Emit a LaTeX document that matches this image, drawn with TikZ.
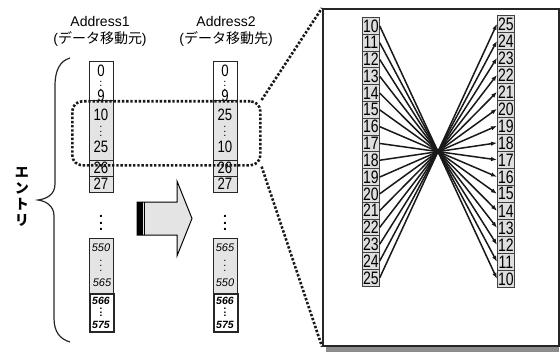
\documentclass[tikz,border=0pt]{standalone}
\usepackage{graphicx}
\usepackage{fontspec}
\setmainfont{Liberation Sans}
\newfontfamily\cjk{Noto Sans CJK JP}
\usetikzlibrary{arrows.meta}
\definecolor{cellgray}{HTML}{E4E4E4}
\definecolor{pgray}{HTML}{DEDEDE}
\definecolor{shadowgray}{HTML}{8C8C8C}
\newcommand\cnd[1]{\scalebox{0.8}[1]{#1}}
\newcommand\pcnd[1]{\scalebox{0.78}[1]{#1}}
\newcommand\vd[1]{\vbox{\baselineskip#1\lineskiplimit0pt\hbox{.}\hbox{.}\hbox{.}}}
\begin{document}
\begin{tikzpicture}[x=1pt,y=-1pt,
  box/.style={draw=black!85,line width=0.8pt,inner sep=0pt,minimum width=24pt,anchor=north west},
  gbox/.style={box,fill=cellgray},
  wbox/.style={box,fill=white},
  num/.style={inner sep=0pt,font=\fontsize{16.5}{16.5}\selectfont},
  snum/.style={inner sep=0pt,font=\fontsize{11}{11}\selectfont\itshape},
  bnum/.style={inner sep=0pt,font=\fontsize{10.5}{10.5}\selectfont\itshape\bfseries},
  dots/.style={inner sep=0pt,font=\fontsize{11}{11}\selectfont},
  lbl/.style={inner sep=0pt,font=\fontsize{14}{16}\selectfont},
  pcell/.style={draw=black!75,fill=pgray,line width=0.7pt,inner sep=0pt,minimum width=17pt,minimum height=17pt,anchor=north west,font=\fontsize{18}{17}\selectfont},
  conn/.style={line width=1.5pt,black!90,-{Latex[length=6pt,width=4.5pt]}},
  dotline/.style={line width=2.6pt,dash pattern=on 2.4pt off 1.8pt,black!90}
]
\useasboundingbox (0,0) rectangle (560,353);

% headers
\node[lbl] (h1) at (100,21) {Address1};
\node[lbl] (h1b) at (100,38.5) {({\cjk データ移動元})};
\node[lbl] (h2) at (226,21) {Address2};
\node[lbl] (h2b) at (226,38.5) {({\cjk データ移動先})};

% brace
\draw[line width=1.2pt,black!85] (70,58) .. controls (60,61) and (55,70) .. (55,86) -- (55,184)
  .. controls (55,195) and (46,199) .. (38,200) .. controls (46,201) and (54,206) .. (54,216)
  -- (54,318) .. controls (54,332) and (60,339) .. (70,342);
\node[inner sep=0pt,align=center,font=\cjk\bfseries\fontsize{14}{16}\selectfont] (entry) at (22,197) {エ\\ン\\ト\\リ};

% column 1
\node[wbox,minimum height=39pt] (a1) at (89,61) {};
\node[gbox,minimum height=60pt] (b1) at (89,100) {};
\node[gbox,minimum height=16pt] (c1) at (89,160) {};
\node[gbox,minimum height=16pt] (d1) at (89,176) {};
\node[gbox,minimum height=55pt] (e1) at (89,238) {};
\node[wbox,minimum height=38pt,line width=1.5pt] (f1) at (89,293) {};
\node[num] (a1t) at (101,71) {\cnd{0}};
\node[dots] (a1d) at (101,86) {\vd{4pt}};
\node[num] (a1u) at (101,95.5) {\cnd{9}};
\node[num] (b1t) at (101,115) {\cnd{10}};
\node[dots] (b1d) at (101,131.5) {\vd{4.5pt}};
\node[num] (b1u) at (101,147) {\cnd{25}};
\node[num] (c1t) at (101,168) {\cnd{26}};
\node[num] (d1t) at (101,184) {\cnd{27}};
\node[dots,font=\fontsize{14}{14}\selectfont\bfseries] (m1d) at (101,223) {\vd{6.5pt}};
\node[snum] (e1t) at (101,248) {550};
\node[dots] (e1d) at (101,265.5) {\vd{5pt}};
\node[snum] (e1u) at (102,283) {565};
\node[bnum] (f1t) at (101,300.5) {566};
\node[dots,font=\fontsize{10}{10}\selectfont\bfseries] (f1d) at (101,312.5) {\vd{3.6pt}};
\node[bnum] (f1u) at (101,324.5) {575};

% column 2
\node[wbox,minimum height=39pt] (a2) at (213,61) {};
\node[gbox,minimum height=60pt] (b2) at (213,100) {};
\node[gbox,minimum height=16pt] (c2) at (213,160) {};
\node[gbox,minimum height=16pt] (d2) at (213,176) {};
\node[gbox,minimum height=55pt] (e2) at (213,238) {};
\node[wbox,minimum height=38pt,line width=1.5pt] (f2) at (213,293) {};
\node[num] (a2t) at (225,71) {\cnd{0}};
\node[dots] (a2d) at (225,86) {\vd{4pt}};
\node[num] (a2u) at (225,95.5) {\cnd{9}};
\node[num] (b2t) at (225,115) {\cnd{25}};
\node[dots] (b2d) at (225,131.5) {\vd{4.5pt}};
\node[num] (b2u) at (225,147) {\cnd{10}};
\node[num] (c2t) at (225,168) {\cnd{26}};
\node[num] (d2t) at (225,184) {\cnd{27}};
\node[dots,font=\fontsize{14}{14}\selectfont\bfseries] (m2d) at (225,223) {\vd{6.5pt}};
\node[snum] (e2t) at (225,248) {565};
\node[dots] (e2d) at (225,265.5) {\vd{5pt}};
\node[snum] (e2u) at (225,283) {550};
\node[bnum] (f2t) at (225,300.5) {566};
\node[dots,font=\fontsize{10}{10}\selectfont\bfseries] (f2d) at (225,312.5) {\vd{3.6pt}};
\node[bnum] (f2u) at (225,324.5) {575};

% block arrow
\filldraw[fill=cellgray,draw=black,line width=1pt,line join=miter]
  (137,202) -- (177,202) -- (177,181) -- (192,218.5) -- (177,256) -- (177,235) -- (137,235) -- cycle;
\fill[black] (137,202) rectangle (142.5,235);
\draw[black,line width=0.9pt] (144.5,202) -- (144.5,235);

% selection
\node[dotline,draw,rounded corners=10pt,inner sep=0pt,minimum width=188pt,minimum height=64pt,anchor=north west] (sel) at (71,100) {};

% panel
\fill[shadowgray] (326,13) rectangle (559,352);
\node[draw=black!85,fill=white,line width=1.6pt,inner sep=0pt,minimum width=236pt,minimum height=337pt,anchor=north west] (panel) at (322,8) {};
\draw[dotline] (sel.north east) -- (panel.north west);
\draw[dotline] (sel.south east) -- (panel.south west);

\foreach \i in {0,...,15} {
  \pgfmathtruncatemacro\v{10+\i}
  \pgfmathtruncatemacro\w{25-\i}
  \node[pcell] (L\v) at ({362},{17+16.8*\i}) {\pcnd{\v}};
  \node[pcell] (R\w) at ({497},{15+17*\i}) {\pcnd{\w}};
}
\foreach \v in {10,...,25} {
  \draw[conn] (L\v.east) -- (R\v.west);
}
\end{tikzpicture}
\end{document}
